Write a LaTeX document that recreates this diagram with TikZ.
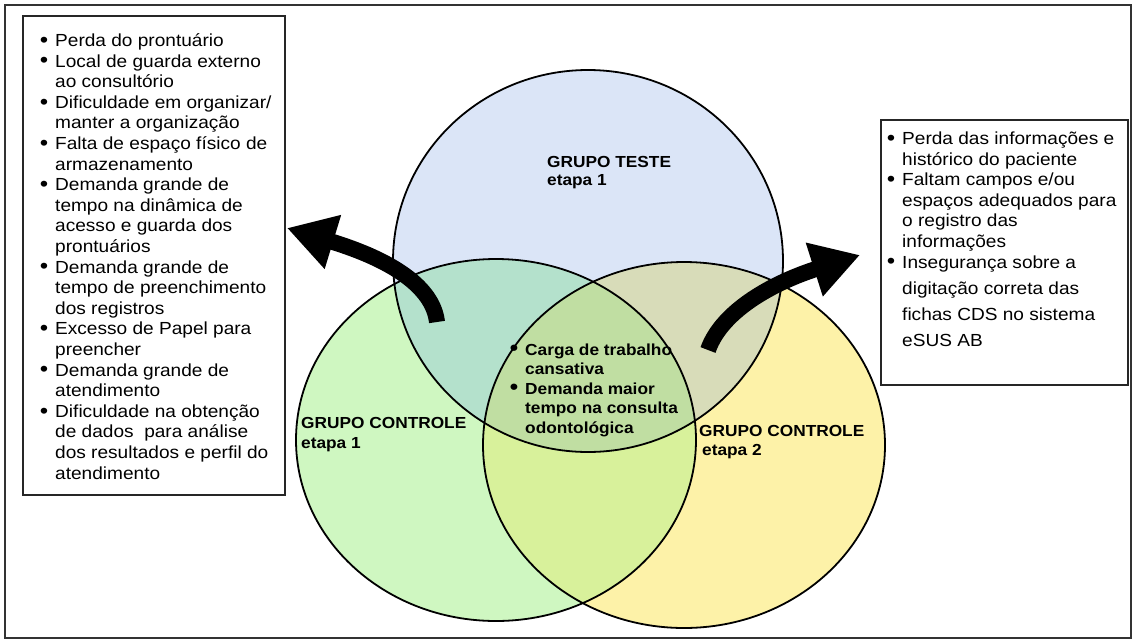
\documentclass[tikz,border=0pt]{standalone}
\usepackage{fontspec}
\usetikzlibrary{arrows.meta}
\newfontfamily\sansbody[FakeStretch=1.09]{Liberation Sans}
\newfontfamily\sansheavy[FakeStretch=1.08]{Liberation Sans}

% region colours of the three-set diagram
\definecolor{testeFill}{HTML}{DBE5F7}
\definecolor{ctrlAFill}{HTML}{CFF7C1}
\definecolor{ctrlBFill}{HTML}{FDF2A8}
\definecolor{testeCtrlA}{HTML}{B4E1CC}
\definecolor{testeCtrlB}{HTML}{D8DCB9}
\definecolor{ctrlAB}{HTML}{D8F19B}
\definecolor{allThree}{HTML}{C0DEA2}

% the three sets
\newcommand\EllT{(588,261) ellipse [x radius=195pt, y radius=191pt]}
\newcommand\EllA{(496,440) ellipse [x radius=200pt, y radius=181pt]}
\newcommand\EllB{(684,445) ellipse [x radius=201pt, y radius=183pt]}

\newcommand\bul{\llap{\raisebox{-0.8pt}{\fontsize{22}{22}\selectfont\textbullet}\hspace{7pt}}}

\tikzset{
  body/.style={font=\sansbody\fontsize{17.5}{20}\selectfont, anchor=base west, inner sep=0pt},
  heavy/.style={font=\sansheavy\bfseries\fontsize{16}{19}\selectfont, anchor=base west, inner sep=0pt},
  panel/.style={draw=black!85, line width=1.8pt, fill=white, inner sep=0pt},
  outline/.style={draw=black, line width=1.8pt},
  bigarrow/.style={line width=16pt, -{Triangle[length=48pt,width=53pt]}}
}

\begin{document}
\begin{tikzpicture}[x=1pt,y=-1pt]
\useasboundingbox (0,0) rectangle (1135,643);
\fill[white] (0,0) rectangle (1135,643);
\draw[black!80, line width=1.5pt] (5,5) rectangle (1131,638);

% filled regions
\fill[testeFill] \EllT;
\fill[ctrlAFill] \EllA;
\fill[ctrlBFill] \EllB;
\begin{scope}\clip \EllT; \fill[testeCtrlA] \EllA; \end{scope}
\begin{scope}\clip \EllT; \fill[testeCtrlB] \EllB; \end{scope}
\begin{scope}\clip \EllA; \fill[ctrlAB] \EllB; \end{scope}
\begin{scope}\clip \EllT; \clip \EllA; \fill[allThree] \EllB; \end{scope}
\draw[outline] \EllT;
\draw[outline] \EllA;
\draw[outline] \EllB;

% side panels
\node[panel, minimum width=262pt, minimum height=479pt] (leftpanel) at (154,255.5) {};
\node[panel, minimum width=247pt, minimum height=265pt] (rightpanel) at (1004.5,252.5) {};

% curved arrows pointing to the panels
\coordinate (ltail) at (437,322);
\coordinate (ltip) at (287,228);
\coordinate (rtail) at (708,350);
\coordinate (rtip) at (860,255);
\draw[bigarrow] (ltail) .. controls (433,287) and (392,260) .. (ltip);
\draw[bigarrow] (rtail) .. controls (722,310) and (775,282) .. (rtip);

% group labels
\node[heavy] (teste) at (547,167) {GRUPO TESTE};
\node[heavy] (testeEt) at (547,185) {etapa 1};
\node[heavy] (ctrlA) at (301,428) {GRUPO CONTROLE};
\node[heavy] (ctrlAEt) at (301,448) {etapa 1};
\node[heavy] (ctrlB) at (699,436) {GRUPO CONTROLE};
\node[heavy] (ctrlBEt) at (702,455) {etapa 2};

% shared items
\foreach \y/\t [count=\i] in {
  355/{\bul Carga de trabalho},
  374.5/{cansativa},
  394/{\bul Demanda maior},
  413.5/{tempo na consulta},
  433/{odontológica}}
  \node[heavy] (mid\i) at (525,\y) {\t};

% left panel list
\foreach \y/\t [count=\i] in {
  46.5/{\bul Perda do prontuário},
  67.1/{\bul Local de guarda externo},
  87.7/{ao consultório},
  108.3/{\bul Dificuldade em organizar/},
  128.9/{manter a organização},
  149.5/{\bul Falta de espaço físico de},
  170.1/{armazenamento},
  190.7/{\bul Demanda grande de},
  211.3/{tempo na dinâmica de},
  231.9/{acesso e guarda dos},
  252.5/{prontuários},
  273.1/{\bul Demanda grande de},
  293.7/{tempo de preenchimento},
  314.3/{dos registros},
  334.9/{\bul Excesso de Papel para},
  355.5/{preencher},
  376.1/{\bul Demanda grande de},
  396.7/{atendimento},
  417.3/{\bul Dificuldade na obtenção},
  437.9/{de dados~ para análise},
  458.5/{dos resultados e perfil do},
  479.1/{atendimento}}
  \node[body] (left\i) at (55,\y) {\t};

% right panel list
\foreach \y/\t [count=\i] in {
  144.5/{\bul Perda das informações e},
  165.1/{histórico do paciente},
  185.7/{\bul Faltam campos e/ou},
  206.3/{espaços adequados para},
  226.9/{o registro das},
  247.5/{informações},
  268.1/{\bul Insegurança sobre a},
  294/{digitação correta das},
  320/{fichas CDS no sistema},
  346/{eSUS AB}}
  \node[body] (right\i) at (902,\y) {\t};
\end{tikzpicture}
\end{document}
